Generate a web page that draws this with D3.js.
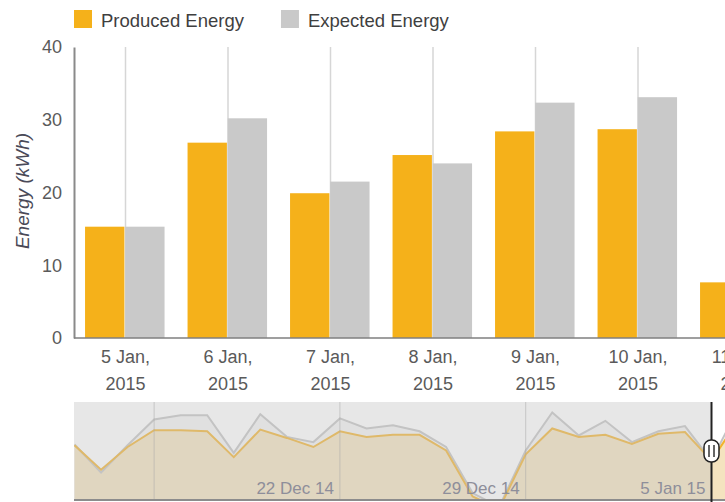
<!DOCTYPE html>
<html>
<head>
<meta charset="utf-8">
<script src="https://cdn.jsdelivr.net/npm/d3@7"></script>
<style>
    body { margin: 0; background: #fff; }
    svg { display: block; font-family: "Liberation Sans", Arial, sans-serif; }
</style>
</head>
<body>
<div id="chart"></div>
<script>
// Daily values, 12 Dec 2014 -> 11 Jan 2015.
//  Navigator shows the whole run, the main chart only the selected week.
const days = [
    '2014-12-12', '2014-12-13', '2014-12-14', '2014-12-15', '2014-12-16', '2014-12-17',
    '2014-12-18', '2014-12-19', '2014-12-20', '2014-12-21', '2014-12-22', '2014-12-23',
    '2014-12-24', '2014-12-25', '2014-12-26', '2014-12-27', '2014-12-28', '2014-12-29',
    '2014-12-30', '2014-12-31', '2015-01-01', '2015-01-02', '2015-01-03', '2015-01-04',
    '2015-01-05', '2015-01-06', '2015-01-07', '2015-01-08', '2015-01-09', '2015-01-10',
    '2015-01-11'
];
const producedEnergy = [
    19.7, 12.7, 19.2, 24.0, 24.0, 23.7, 16.3, 24.2, 21.8, 19.2, 23.7, 22.1,
    22.7, 22.7, 18.2, 5.0, 1.5, 17.1, 24.5, 22.1, 22.7, 20.1, 23.0, 23.5,
    15.3, 26.85, 19.9, 25.15, 28.4, 28.7, 7.65
];
const expectedEnergy = [
    19.9, 11.9, 19.7, 27.1, 28.3, 28.3, 17.5, 28.6, 22.1, 20.6, 27.4, 24.5,
    25.4, 23.7, 19.2, 6.0, 2.0, 18.2, 29.1, 22.5, 26.7, 20.6, 23.7, 25.2,
    15.3, 30.2, 21.5, 24.0, 32.35, 33.1, 9.5
];
const seriesNames = ['Produced Energy', 'Expected Energy'];
const seriesColors = ['#f5b11a', '#c9c9c9'];
const yTicks = [0, 10, 20, 30, 40];
const navWeekTicks = ['2014-12-15', '2014-12-22', '2014-12-29', '2015-01-05'];
const selectedFrom = '2015-01-05';

const W = 725, H = 502;
const parse = d3.timeParse('%Y-%m-%d');

const svg = d3.select('#chart').append('svg')
                .attr('width', W).attr('height', H);

// ---------- main column chart ----------
const start = days.indexOf(selectedFrom);
const mainData = days.slice(start).map((d, i) => {
    return {
        date: parse(d),
        key: d,
        values: [
            { name: 'produced', value: producedEnergy[start + i], color: seriesColors[0] },
            { name: 'expected', value: expectedEnergy[start + i], color: seriesColors[1] }
        ]
    };
});

const plot = { left: 74.25, top: 47, bottom: 338, step: 102.5 };

const x0 = d3.scaleBand()
            .domain(mainData.map(d => d.key))
            .range([plot.left, plot.left + plot.step * mainData.length])
            .padding(0);
const x1 = d3.scaleBand()
            .domain(['produced', 'expected'])
            .range([10.8, x0.bandwidth() - 12.2])
            .paddingInner(0.02);
const y = d3.scaleLinear().domain([0, 40]).range([plot.bottom, plot.top]);

// vertical grid lines sit in the middle of each day
svg.append('g').attr('class', 'grid')
    .selectAll('line').data(mainData).enter()
    .append('line')
        .attr('x1', d => x0(d.key) + x0.bandwidth() / 2)
        .attr('x2', d => x0(d.key) + x0.bandwidth() / 2)
        .attr('y1', y(40))
        .attr('y2', y(0))
        .attr('stroke', '#d6d6d6')
        .attr('stroke-width', 1.5);

const groups = svg.append('g').attr('class', 'bars')
                .selectAll('g').data(mainData).enter()
                .append('g')
                .attr('transform', d => 'translate(' + x0(d.key) + ',0)');

groups.selectAll('rect').data(d => d.values).enter()
    .append('rect')
        .attr('x', d => x1(d.name))
        .attr('width', x1.bandwidth())
        .attr('y', d => y(d.value))
        .attr('height', d => y(0) - y(d.value))
        .attr('fill', d => d.color);

// y axis
const yAxis = svg.append('g')
                .attr('transform', 'translate(74,0)')
                .call(d3.axisLeft(y).tickValues(yTicks).tickSize(0).tickPadding(12));
yAxis.select('.domain').attr('stroke', '#8a8a8a').attr('stroke-width', 2);
yAxis.selectAll('text')
        .attr('font-size', 18)
        .attr('font-family', '"Liberation Sans", Arial, sans-serif')
        .attr('fill', '#5a5a5a');

svg.append('text')
    .attr('transform', 'translate(29,191) rotate(-90)')
    .attr('text-anchor', 'middle')
    .attr('font-size', 19)
    .attr('font-style', 'italic')
    .attr('fill', '#4a4a58')
    .text('Energy (kWh)');

// x axis: line plus two-line date labels
svg.append('line')
    .attr('x1', 74).attr('x2', W)
    .attr('y1', plot.bottom).attr('y2', plot.bottom)
    .attr('stroke', '#7f7f7f').attr('stroke-width', 1.5);

const dayFmt = d3.timeFormat('%-d %b,'), yearFmt = d3.timeFormat('%Y');
const xLabels = svg.append('g').attr('class', 'x-labels')
                .selectAll('text').data(mainData).enter()
                .append('text')
                .attr('x', d => x0(d.key) + x0.bandwidth() / 2)
                .attr('text-anchor', 'middle')
                .attr('font-size', 18)
                .attr('fill', '#5a5a5a');
xLabels.append('tspan').attr('y', 363).text(d => dayFmt(d.date));
xLabels.append('tspan').attr('y', 390)
        .attr('x', d => x0(d.key) + x0.bandwidth() / 2)
        .text(d => yearFmt(d.date));

// legend
const legend = svg.append('g').attr('class', 'legend');
let lx = 74;
seriesNames.forEach((name, i) => {
    legend.append('rect')
        .attr('x', lx).attr('y', 10)
        .attr('width', 18).attr('height', 18)
        .attr('fill', seriesColors[i]);
    const t = legend.append('text')
        .attr('x', lx + 27).attr('y', 27)
        .attr('font-size', 18.5)
        .attr('fill', '#3f3f3f')
        .text(name);
    lx = lx + 27 + t.node().getComputedTextLength() + 37;
});

// ---------- navigator ----------
const nav = { left: 74, top: 402, bottom: 500 };
const navData = days.map((d, i) => ({ date: parse(d), produced: producedEnergy[i], expected: expectedEnergy[i] }));

const navX = d3.scaleTime()
            .domain([parse(days[0]), parse(selectedFrom)])
            .range([74.5, 711.5]);
const navY = d3.scaleLinear().domain([4, 32.1]).range([nav.bottom, nav.top]);

svg.append('clipPath').attr('id', 'nav-clip')
    .append('rect')
        .attr('x', nav.left).attr('y', nav.top)
        .attr('width', W - nav.left).attr('height', nav.bottom - nav.top);

const navG = svg.append('g').attr('clip-path', 'url(#nav-clip)');

navG.append('rect')
    .attr('x', nav.left).attr('y', nav.top)
    .attr('width', W - nav.left).attr('height', nav.bottom - nav.top)
    .attr('fill', '#fff');

const areaFor = key => d3.area()
            .x(d => navX(d.date))
            .y0(nav.bottom + 20)
            .y1(d => navY(d[key]));
const lineFor = key => d3.line()
            .x(d => navX(d.date))
            .y(d => navY(d[key]));

navG.append('path').datum(navData)
    .attr('d', areaFor('expected'))
    .attr('fill', '#c9c9c9').attr('fill-opacity', 0.2);
navG.append('path').datum(navData)
    .attr('d', areaFor('produced'))
    .attr('fill', '#f5b11a').attr('fill-opacity', 0.24);
navG.append('path').datum(navData)
    .attr('d', lineFor('expected'))
    .attr('fill', 'none').attr('stroke', '#c3c3c3').attr('stroke-width', 2);
navG.append('path').datum(navData)
    .attr('d', lineFor('produced'))
    .attr('fill', 'none').attr('stroke', '#f2b22e').attr('stroke-width', 2);

// shade everything left of the selected range
const handleX = navX(parse(selectedFrom));
navG.append('rect')
    .attr('x', nav.left).attr('y', nav.top)
    .attr('width', handleX - nav.left).attr('height', nav.bottom - nav.top)
    .attr('fill', 'rgb(196,196,196)').attr('fill-opacity', 0.4);

// week grid + labels
const navFmt = d3.timeFormat('%-d %b %y');
const weeks = navWeekTicks.map(parse);
navG.selectAll('line.week').data(weeks).enter()
    .append('line').attr('class', 'week')
        .attr('x1', d => navX(d)).attr('x2', d => navX(d))
        .attr('y1', nav.top).attr('y2', nav.bottom)
        .attr('stroke', '#a8a8a8').attr('stroke-opacity', 0.5).attr('stroke-width', 1);

navG.selectAll('text.week').data(weeks).enter()
    .append('text').attr('class', 'week')
        .attr('x', d => navX(d) - 6)
        .attr('y', 494)
        .attr('text-anchor', 'end')
        .attr('font-size', 17)
        .attr('fill', '#8e8e9a')
        .text(d => navFmt(d))
        .each(function() {
            // Drop labels that would hang over the left edge
            if (this.getBBox().x < nav.left) d3.select(this).remove();
        });

svg.append('line')
    .attr('x1', nav.left).attr('x2', W)
    .attr('y1', nav.bottom).attr('y2', nav.bottom)
    .attr('stroke', '#8c8c8c').attr('stroke-width', 2);

// left handle of the range selector
const hy = (nav.top + nav.bottom) / 2;
svg.append('line')
    .attr('x1', handleX).attr('x2', handleX)
    .attr('y1', nav.top).attr('y2', H)
    .attr('stroke', '#222').attr('stroke-width', 2);
svg.append('rect')
    .attr('x', handleX - 7.5).attr('y', hy - 11)
    .attr('width', 15).attr('height', 22)
    .attr('rx', 7).attr('ry', 7)
    .attr('fill', '#fff').attr('stroke', '#222').attr('stroke-width', 1.5);
[-2.5, 2.5].forEach(dx => {
    svg.append('line')
        .attr('x1', handleX + dx).attr('x2', handleX + dx)
        .attr('y1', hy - 6).attr('y2', hy + 6)
        .attr('stroke', '#333').attr('stroke-width', 1.5);
});
</script>
</body>
</html>
